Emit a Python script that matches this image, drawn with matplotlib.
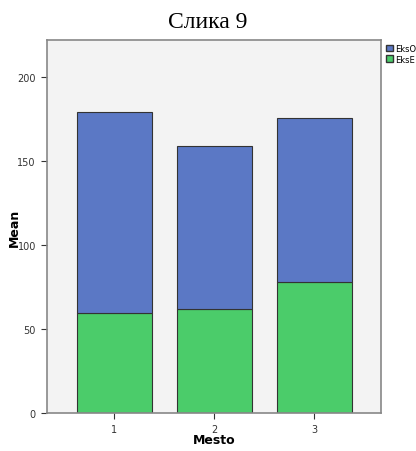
import matplotlib
matplotlib.use("Agg")
import matplotlib.pyplot as plt
from matplotlib.patches import Patch

# data
mesto = [1, 2, 3]
eks_e = [59.5, 61.9, 78.0]
eks_o = [119.7, 97.0, 97.6]

blue = "#5b78c5"
green = "#4bcc6a"

fig = plt.figure(figsize=(4.16, 4.52), dpi=100)
ax = fig.add_axes([47 / 416, 1 - 414 / 452, 334 / 416, 373 / 452])
ax.set_facecolor("#f3f3f3")

ax.bar(mesto, eks_e, width=0.75, color=green, edgecolor="#333333", linewidth=0.8)
ax.bar(mesto, eks_o, width=0.75, bottom=eks_e, color=blue, edgecolor="#333333", linewidth=0.8)

ax.set_xlim(0.33, 3.67)
ax.set_ylim(0, 222)
ax.set_xticks(mesto)
ax.set_yticks([0, 50, 100, 150, 200])
ax.tick_params(labelsize=7, colors="#333333", length=4, width=0.8, pad=4)
for s in ax.spines.values():
    s.set_color("#888888")
    s.set_linewidth(1.2)

ax.set_xlabel("Mesto", fontsize=9, fontweight="bold")
ax.set_ylabel("Mean", fontsize=9, fontweight="bold")
ax.xaxis.set_label_coords(0.5, (414 - 441) / 373, transform=ax.transAxes)
ax.yaxis.set_label_coords((14 - 47) / 334, 0.5, transform=ax.transAxes)
ax.xaxis.label.set_va("center")
ax.yaxis.label.set_va("center")

fig.text(208 / 416, 1 - 22 / 452, "Слика 9", family="Liberation Serif",
         fontsize=17, ha="center", va="center")

handles = [Patch(facecolor=blue, edgecolor="#333333", label="EksO"),
           Patch(facecolor=green, edgecolor="#333333", label="EksE")]
fig.legend(handles=handles, loc="upper left", bbox_to_anchor=(380 / 416, 1 - 39 / 452),
           frameon=False, fontsize=6, handlelength=0.9, handleheight=0.9,
           handletextpad=0.2, labelspacing=0.2, borderpad=0.2)

fig.savefig("out.png", dpi=100)
